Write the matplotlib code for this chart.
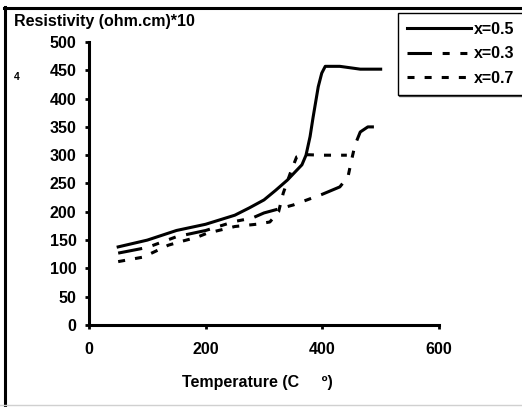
import matplotlib
matplotlib.use("Agg")
import matplotlib.pyplot as plt
from matplotlib.lines import Line2D

# data
temp_05 = [50, 100, 150, 200, 250, 275, 300, 320, 340, 365, 372, 379, 384, 393, 399, 405, 430, 465, 500]
res_05 = [138, 150, 167, 178, 194, 207, 221, 238, 256, 283, 300, 333, 366, 421, 445, 457, 457, 452, 452]

temp_03 = [50, 100, 150, 200, 250, 280, 300, 350, 400, 430, 444, 450, 456, 465, 478, 500]
res_03 = [127, 137, 156, 167, 183, 189, 198, 212, 231, 244, 262, 291, 318, 341, 350, 350]

temp_07 = [50, 93, 136, 156, 185, 202, 250, 287, 310, 325, 333, 345, 356, 370, 400, 442]
res_07 = [112, 120, 141, 147, 155, 162, 174, 178, 182, 200, 233, 268, 297, 301, 300, 300]

labels = ["x=0.5", "x=0.3", "x=0.7"]
xticks = [0, 200, 400, 600]
yticks = list(range(0, 501, 50))

plt.rcParams['font.family'] = ['Liberation Sans', 'DejaVu Sans']
plt.rcParams['font.weight'] = 'bold'

W, H = 522, 407
fig = plt.figure(figsize=(W / 100, H / 100), dpi=100)
ax = fig.add_axes([89 / W, 1 - 325 / H, 350 / W, 283 / H])

lw = 2.2
ax.plot(temp_05, res_05, color='black', lw=lw, label=labels[0])
ax.plot(temp_03, res_03, color='black', lw=lw, label=labels[1],
        linestyle=(0, (8, 3.5, 2.3, 3.5, 2.3, 3.5)))
ax.plot(temp_07, res_07, color='black', lw=lw, label=labels[2],
        linestyle=(0, (2.3, 3.3)))

ax.set_xlim(0, 600)
ax.set_ylim(0, 500)
ax.set_xticks(xticks)
ax.set_yticks(yticks)
ax.tick_params(direction='out', length=3, width=2, labelsize=11.5)
ax.tick_params(axis='x', pad=9)
ax.tick_params(axis='y', pad=6)
for s in ['top', 'right']:
    ax.spines[s].set_visible(False)
for s in ['left', 'bottom']:
    ax.spines[s].set_linewidth(2.2)
for lab in ax.get_xticklabels() + ax.get_yticklabels():
    lab.set_fontweight('bold')

leg = fig.legend(loc='upper left', bbox_to_anchor=(398 / W, 1 - 13 / H),
                 fontsize=11.5, handlelength=4.0, handletextpad=0.2,
                 labelspacing=0.6, borderpad=0.55, frameon=True,
                 fancybox=False, borderaxespad=0,
                 shadow={'ox': 1, 'oy': -1, 'facecolor': '#999999', 'alpha': 1})
leg.get_frame().set_edgecolor('black')
leg.get_frame().set_linewidth(1)

fig.text(14 / W, 1 - 26 / H, "Resistivity (ohm.cm)*10", fontsize=11.5,
         fontweight='bold', ha='left', va='baseline')
fig.text(17 / W, 1 - 77 / H, "4", fontsize=7.5, fontweight='bold',
         ha='center', va='center')
fig.text(257 / W, 1 - 383 / H, "Temperature (C     \u00ba)", fontsize=11.5,
         fontweight='bold', ha='center', va='center')

# outer frame like the original document
fig.add_artist(Line2D([5 / W, 5 / W], [0, 1 - 7 / H], color='black', lw=2.2,
                      transform=fig.transFigure))
fig.add_artist(Line2D([4 / W, 1], [1 - 8 / H, 1 - 8 / H], color='black', lw=2.2,
                      transform=fig.transFigure))
fig.add_artist(Line2D([0, 1], [1 - 405 / H, 1 - 405 / H], color='#d0d0d0', lw=1,
                      transform=fig.transFigure))

fig.savefig("out.png", dpi=100)
